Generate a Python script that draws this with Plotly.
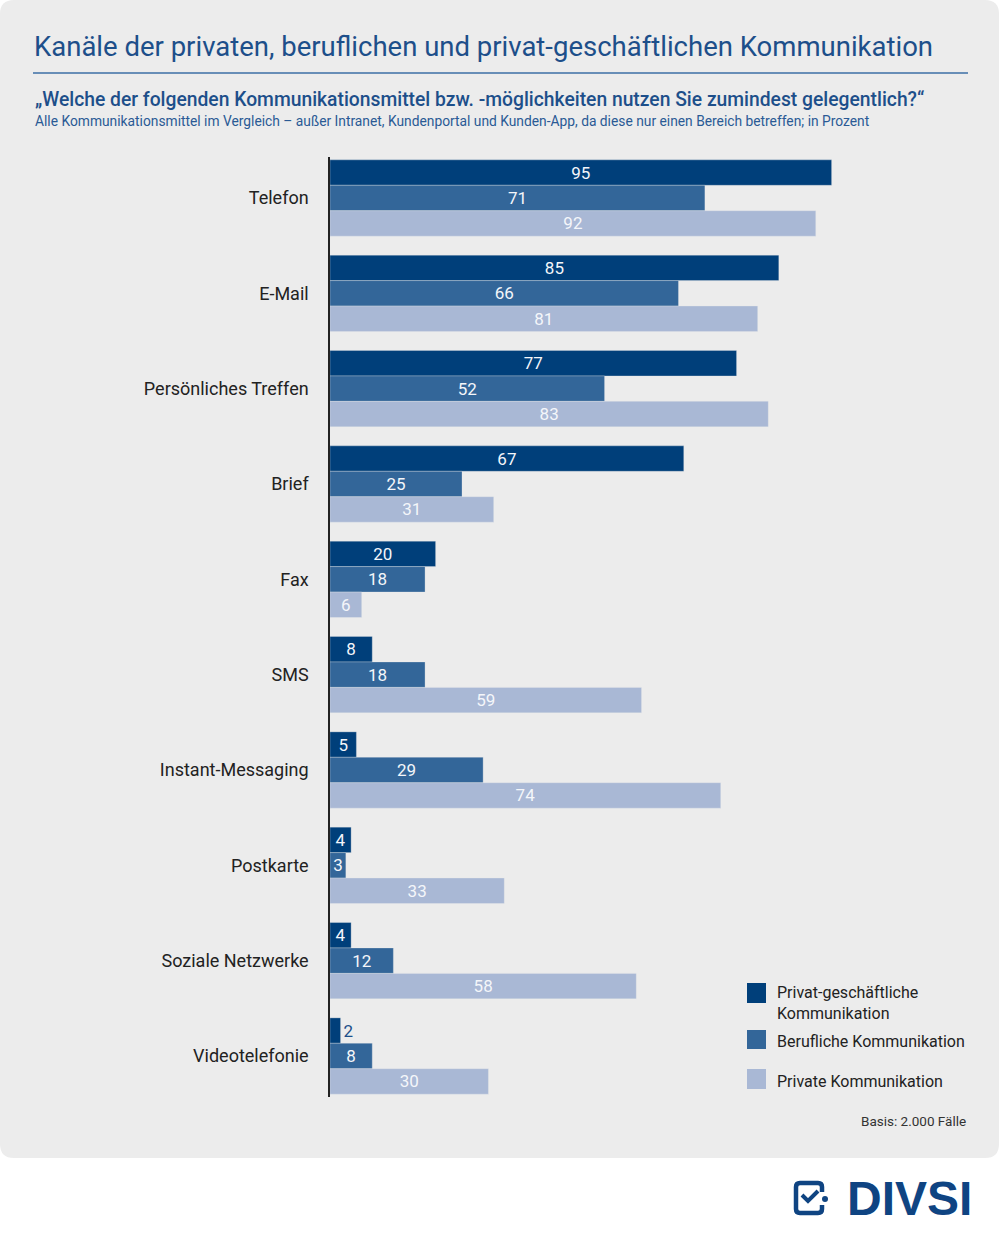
import plotly.graph_objects as go

# values, in percent
kanaele = ['Telefon', 'E-Mail', 'Persönliches Treffen', 'Brief', 'Fax', 'SMS',
           'Instant-Messaging', 'Postkarte', 'Soziale Netzwerke', 'Videotelefonie']
privat_geschaeftlich = [95, 85, 77, 67, 20, 8, 5, 4, 4, 2]
beruflich = [71, 66, 52, 25, 18, 18, 29, 3, 12, 8]
privat = [92, 81, 83, 31, 6, 59, 74, 33, 58, 30]

serien = ['Privat-geschäftliche<br>Kommunikation', 'Berufliche Kommunikation', 'Private Kommunikation']
farben = ['#003f7a', '#336699', '#a9b8d5']

W, H = 1000, 1240
FONT = 'Roboto'


def px(x):
    return x / W


def py(y):
    return 1 - y / H


fig = go.Figure()
for name, vals, col in zip(serien, [privat_geschaeftlich, beruflich, privat], farben):
    # tiny bars get the label next to them, like the "2"
    pos = ['outside' if v < 3 else 'inside' for v in vals]
    tcol = ['#1d4f8a' if v < 3 else '#f4f6fa' for v in vals]
    fig.add_trace(go.Bar(
        y=kanaele, x=vals, orientation='h', name=name,
        marker=dict(color=col, line=dict(color='rgba(236,236,236,0.5)', width=0.6)),
        text=[str(v) for v in vals], textposition=pos, textangle=0,
        insidetextanchor='middle',
        textfont=dict(family=FONT, size=17, color=tcol),
        cliponaxis=False, showlegend=False,
    ))

fig.update_layout(
    width=W, height=H,
    margin=dict(l=0, r=0, t=0, b=0),
    paper_bgcolor='white', plot_bgcolor='rgba(0,0,0,0)',
    barmode='group', bargap=0.2, bargroupgap=0,
    uniformtext=dict(minsize=17, mode='show'),
    font=dict(family=FONT, color='#222222'),
    xaxis=dict(domain=[px(330), px(968)], range=[0, 638 / 5.28], visible=False),
    yaxis=dict(domain=[py(1097), py(157)], type='category',
               categoryorder='array', categoryarray=kanaele,
               range=[9.43, -0.43], showgrid=False, zeroline=False,
               showline=True, linecolor='#222222', linewidth=1.5,
               ticks='outside', ticklen=16, tickcolor='rgba(0,0,0,0)',
               tickfont=dict(family=FONT, size=18, color='#222222')),
)

shapes = []
# grey rounded panel
r = 14
x0, y0, x1, y1 = 0, 0, 999, 1158
path = (f'M {px(x0 + r)},{py(y0)} L {px(x1 - r)},{py(y0)} '
        f'Q {px(x1)},{py(y0)} {px(x1)},{py(y0 + r)} L {px(x1)},{py(y1 - r)} '
        f'Q {px(x1)},{py(y1)} {px(x1 - r)},{py(y1)} L {px(x0 + r)},{py(y1)} '
        f'Q {px(x0)},{py(y1)} {px(x0)},{py(y1 - r)} L {px(x0)},{py(y0 + r)} '
        f'Q {px(x0)},{py(y0)} {px(x0 + r)},{py(y0)} Z')
shapes.append(dict(type='path', path=path, xref='paper', yref='paper',
                   fillcolor='#ececec', line=dict(width=0), layer='below'))
# rule under the title
shapes.append(dict(type='line', xref='paper', yref='paper', x0=px(33), x1=px(968),
                   y0=py(73), y1=py(73), line=dict(color='#3d6fa6', width=1.5)))

# legend boxes
leg_y = [(983, 1003), (1030, 1049), (1069, 1089)]
leg_text_y = [1003, 1041, 1081]
for (ya, yb), col in zip(leg_y, farben):
    shapes.append(dict(type='rect', xref='paper', yref='paper', x0=px(747), x1=px(766),
                       y0=py(yb), y1=py(ya), fillcolor=col, line=dict(width=0)))

# DIVSI logo icon
blue = '#0f4482'
icon = (f'M {px(822)},{py(1192)} L {px(822)},{py(1187)} Q {px(822)},{py(1183)} {px(818)},{py(1183)} '
        f'L {px(800)},{py(1183)} Q {px(796)},{py(1183)} {px(796)},{py(1187)} '
        f'L {px(796)},{py(1209)} Q {px(796)},{py(1213)} {px(800)},{py(1213)} '
        f'L {px(818)},{py(1213)} Q {px(822)},{py(1213)} {px(822)},{py(1209)} L {px(822)},{py(1205)}')
shapes.append(dict(type='path', path=icon, xref='paper', yref='paper',
                   line=dict(color=blue, width=4.5)))
check = f'M {px(802)},{py(1195)} L {px(808)},{py(1201)} L {px(818)},{py(1191)}'
shapes.append(dict(type='path', path=check, xref='paper', yref='paper',
                   line=dict(color=blue, width=4)))
shapes.append(dict(type='circle', xref='paper', yref='paper', x0=px(822), x1=px(828),
                   y0=py(1202), y1=py(1196), fillcolor=blue, line=dict(width=0)))

annotations = [
    dict(text='Kanäle der privaten, beruflichen und privat-geschäftlichen Kommunikation',
         x=px(32), y=py(47), xanchor='left', yanchor='middle',
         font=dict(family=FONT, size=27.5, color='#1d4f8a')),
    dict(text='„Welche der folgenden Kommunikationsmittel bzw. -möglichkeiten nutzen Sie zumindest gelegentlich?“',
         x=px(33), y=py(99), xanchor='left', yanchor='middle',
         font=dict(family=FONT, size=19.3, color='#1d4f8a', weight=500)),
    dict(text='Alle Kommunikationsmittel im Vergleich – außer Intranet, Kundenportal und Kunden-App, '
              'da diese nur einen Bereich betreffen; in Prozent',
         x=px(33), y=py(121), xanchor='left', yanchor='middle',
         font=dict(family=FONT, size=13.8, color='#2a5a95')),
    dict(text='Basis: 2.000 Fälle', x=px(968), y=py(1121), xanchor='right', yanchor='middle',
         font=dict(family=FONT, size=13.5, color='#333333')),
    dict(text='DIVSI', x=px(974), y=py(1198), xanchor='right', yanchor='middle',
         font=dict(family='Liberation Sans', size=48, color=blue, weight='bold')),
]
for name, ty in zip(serien, leg_text_y):
    annotations.append(dict(text=name, x=px(775), y=py(ty), xanchor='left', yanchor='middle',
                            align='left', font=dict(family=FONT, size=16, color='#222222')))

for a in annotations:
    a.update(xref='paper', yref='paper', showarrow=False)

fig.update_layout(shapes=shapes, annotations=annotations)

# page body has a default 8px margin; drop it so the figure sits at 0,0
fig.write_html('out.html', config={'displayModeBar': False},
               post_script="document.body.style.margin='0';")
